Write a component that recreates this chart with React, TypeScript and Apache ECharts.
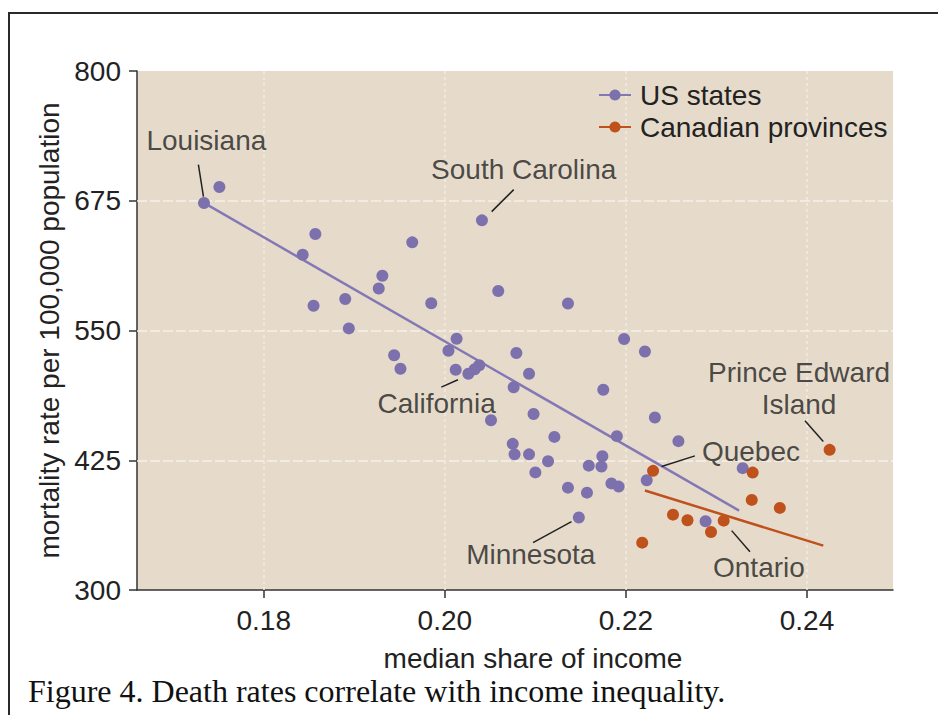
import React, { useEffect, useRef } from "react";
import * as echarts from "echarts";

// ---------- data ----------
const usStates: [number, number][] = [
  [0.1734, 672.9], [0.1751, 688.3], [0.1857, 643.0], [0.1843, 623.0], [0.1931, 602.8],
  [0.1927, 590.5], [0.189, 580.3], [0.1855, 573.9], [0.1894, 552.0], [0.1944, 526.1],
  [0.1951, 513.1], [0.1964, 634.9], [0.2041, 656.1], [0.2059, 588.0], [0.1985, 576.3],
  [0.2136, 576.0], [0.2013, 542.0], [0.2004, 530.5], [0.2079, 528.3], [0.2198, 541.8],
  [0.2221, 529.8], [0.2012, 512.2], [0.2026, 508.3], [0.2033, 512.6], [0.2038, 516.5],
  [0.2093, 508.3], [0.2076, 495.3], [0.2175, 492.9], [0.2098, 469.5], [0.2051, 463.5],
  [0.2121, 447.5], [0.2075, 440.8], [0.2077, 430.7], [0.2093, 430.7], [0.2114, 424.1],
  [0.21, 413.3], [0.2159, 419.8], [0.2174, 428.8], [0.2173, 418.9], [0.2136, 398.6],
  [0.2157, 393.8], [0.2184, 402.7], [0.2192, 399.6], [0.2148, 369.9], [0.219, 448.2],
  [0.2232, 466.2], [0.2258, 443.4], [0.2329, 417.4], [0.2223, 405.8], [0.2288, 366.3],
];

const canadianProvinces: [number, number][] = [
  [0.223, 414.8], [0.234, 413.1], [0.2339, 386.8], [0.237, 379.1], [0.2252, 372.6],
  [0.2268, 367.2], [0.2308, 366.8], [0.2294, 355.9], [0.2218, 345.6], [0.2425, 435.0],
];

const usFitLine: [number, number][] = [[0.1734, 672.9], [0.2325, 376.5]];
const canadaFitLine: [number, number][] = [[0.2221, 395.8], [0.2418, 342.7]];

const yTicks = [300, 425, 550, 675, 800];
const xTicks = [0.18, 0.2, 0.22, 0.24];
const yGridValues = [425, 550, 675];
const xGridValues = [0.18, 0.2, 0.22, 0.24];

const annotationNames = ["Louisiana", "South Carolina", "California", "Minnesota", "Quebec", "Ontario", "Prince Edward\nIsland"];
const annotationPositions: [number, number][] = [
  [0.17366, 733.0], [0.20871, 705.0], [0.19909, 479.4], [0.20949, 333.8],
  [0.23381, 433.1], [0.23469, 321.2], [0.23912, 493.8],
];
const leaderLines: [number, number][][] = [
  [[0.17278, 709.8], [0.17334, 679.0]],
  [[0.20761, 685.7], [0.20517, 664.5]],
  [[0.19961, 495.5], [0.20145, 502.5]],
  [[0.20974, 345.6], [0.21399, 365.9]],
  [[0.22762, 429.2], [0.22394, 418.9]],
  [[0.23168, 357.2], [0.2337, 336.9]],
  [[0.23978, 463.0], [0.2418, 443.0]],
];

const seriesNames = ["US states", "Canadian provinces"];
const caption = "Figure 4. Death rates correlate with income inequality.";

const PURPLE = "#7d71ad";
const PURPLE_LINE = "#8377b6";
const ORANGE = "#bf511d";
const FONT = "Liberation Sans";
const TEXT = "#222";

export default function App() {
  const ref = useRef<HTMLDivElement>(null);
  useEffect(() => {
    if (!ref.current) return;
    const chart = echarts.init(ref.current, undefined, { renderer: "svg" });
    const option: any = {
      animation: false,
      backgroundColor: "#ffffff",
      title: {
        text: caption,
        left: 23,
        top: 670,
        padding: 5,
        textStyle: { fontFamily: "Liberation Serif", fontSize: 32, lineHeight: 32, fontWeight: "normal", color: "#111" },
      },
      graphic: [
        {
          type: "rect",
          shape: { x: 9, y: 13, width: 960, height: 740 },
          style: { fill: "none", stroke: "#2a2a2a", lineWidth: 2 },
          silent: true,
        },
      ],
      legend: {
        data: seriesNames,
        orient: "vertical",
        left: 598,
        top: 81,
        padding: 0,
        itemGap: 4,
        itemWidth: 32,
        itemHeight: 14,
        selectedMode: false,
        textStyle: { fontFamily: FONT, fontSize: 28, color: TEXT, lineHeight: 28, padding: [0, 0, 0, 4] },
      },
      grid: {
        left: 137,
        top: 71,
        right: 45,
        bottom: 125,
        show: true,
        backgroundColor: "#e6dbcb",
        borderWidth: 0,
      },
      xAxis: {
        type: "value",
        min: 0.166,
        max: 0.2495,
        name: "median share of income",
        nameLocation: "middle",
        nameGap: 54,
        nameTextStyle: { fontFamily: FONT, fontSize: 28, lineHeight: 28, color: TEXT, padding: [0, 0, 0, 36] },
        axisLine: { show: true, lineStyle: { color: "#333", width: 1.5 } },
        axisTick: { show: true, length: 8, customValues: xTicks, lineStyle: { color: "#333", width: 1.5 } },
        axisLabel: {
          customValues: xTicks,
          margin: 16,
          fontFamily: FONT,
          fontSize: 28,
          color: TEXT,
          formatter: (v: number) => v.toFixed(2),
        },
        splitLine: { show: false },
      },
      yAxis: {
        type: "value",
        min: 300,
        max: 800,
        name: "mortality rate per 100,000 population",
        nameLocation: "middle",
        nameGap: 25,
        nameTextStyle: { fontFamily: FONT, fontSize: 28, color: TEXT },
        axisLine: { show: true, lineStyle: { color: "#333", width: 1.5 } },
        axisTick: { show: true, length: 8, customValues: yTicks, lineStyle: { color: "#333", width: 1.5 } },
        axisLabel: { customValues: yTicks, margin: 16, fontFamily: FONT, fontSize: 28, color: TEXT },
        splitLine: { show: false },
      },
      series: [
        {
          name: "gridlines",
          type: "scatter",
          data: [],
          z: 1,
          silent: true,
          markLine: {
            silent: true,
            z: 1,
            symbol: ["none", "none"],
            label: { show: false },
            data: [
              ...yGridValues.map((v) => ({
                yAxis: v,
                lineStyle: { color: "#f6f1ea", width: 1.5, type: [10, 3] },
              })),
              ...xGridValues.map((v) => ({
                xAxis: v,
                lineStyle: { color: "#f2ebe1", width: 1.5, type: [3, 3] },
              })),
            ],
          },
        },
        {
          name: seriesNames[0],
          type: "line",
          data: usFitLine,
          symbol: "circle",
          showSymbol: false,
          symbolSize: 11,
          itemStyle: { color: PURPLE },
          lineStyle: { color: PURPLE_LINE, width: 2.5 },
          z: 2,
        },
        {
          name: seriesNames[1],
          type: "line",
          data: canadaFitLine,
          symbol: "circle",
          showSymbol: false,
          symbolSize: 11,
          itemStyle: { color: ORANGE },
          lineStyle: { color: ORANGE, width: 2.5 },
          z: 2,
        },
        {
          name: "US states points",
          type: "scatter",
          data: usStates,
          symbol: "circle",
          symbolSize: 12,
          itemStyle: { color: PURPLE, opacity: 1 },
          z: 3,
        },
        {
          name: "Canadian provinces points",
          type: "scatter",
          data: canadianProvinces,
          symbol: "circle",
          symbolSize: 12,
          itemStyle: { color: ORANGE, opacity: 1 },
          z: 4,
        },
        {
          name: "leaders",
          type: "lines",
          coordinateSystem: "cartesian2d",
          polyline: false,
          silent: true,
          symbol: ["none", "none"],
          lineStyle: { color: "#222", width: 1.5, opacity: 1 },
          data: leaderLines.map((c) => ({ coords: c })),
          z: 5,
        },
        {
          name: "annotations",
          type: "scatter",
          silent: true,
          symbolSize: 0,
          data: annotationNames.map((n, i) => ({ name: n, value: annotationPositions[i] })),
          label: {
            show: true,
            position: "inside",
            formatter: "{b}",
            fontFamily: FONT,
            fontSize: 28,
            lineHeight: 32,
            color: TEXT,
            align: "center",
          },
          z: 6,
        },
      ],
    };
    chart.setOption(option);
    return () => chart.dispose();
  }, []);
  return (
    <div
      ref={ref}
      style={{ position: "fixed", left: 0, top: 0, width: 938, height: 715 }}
    />
  );
}
